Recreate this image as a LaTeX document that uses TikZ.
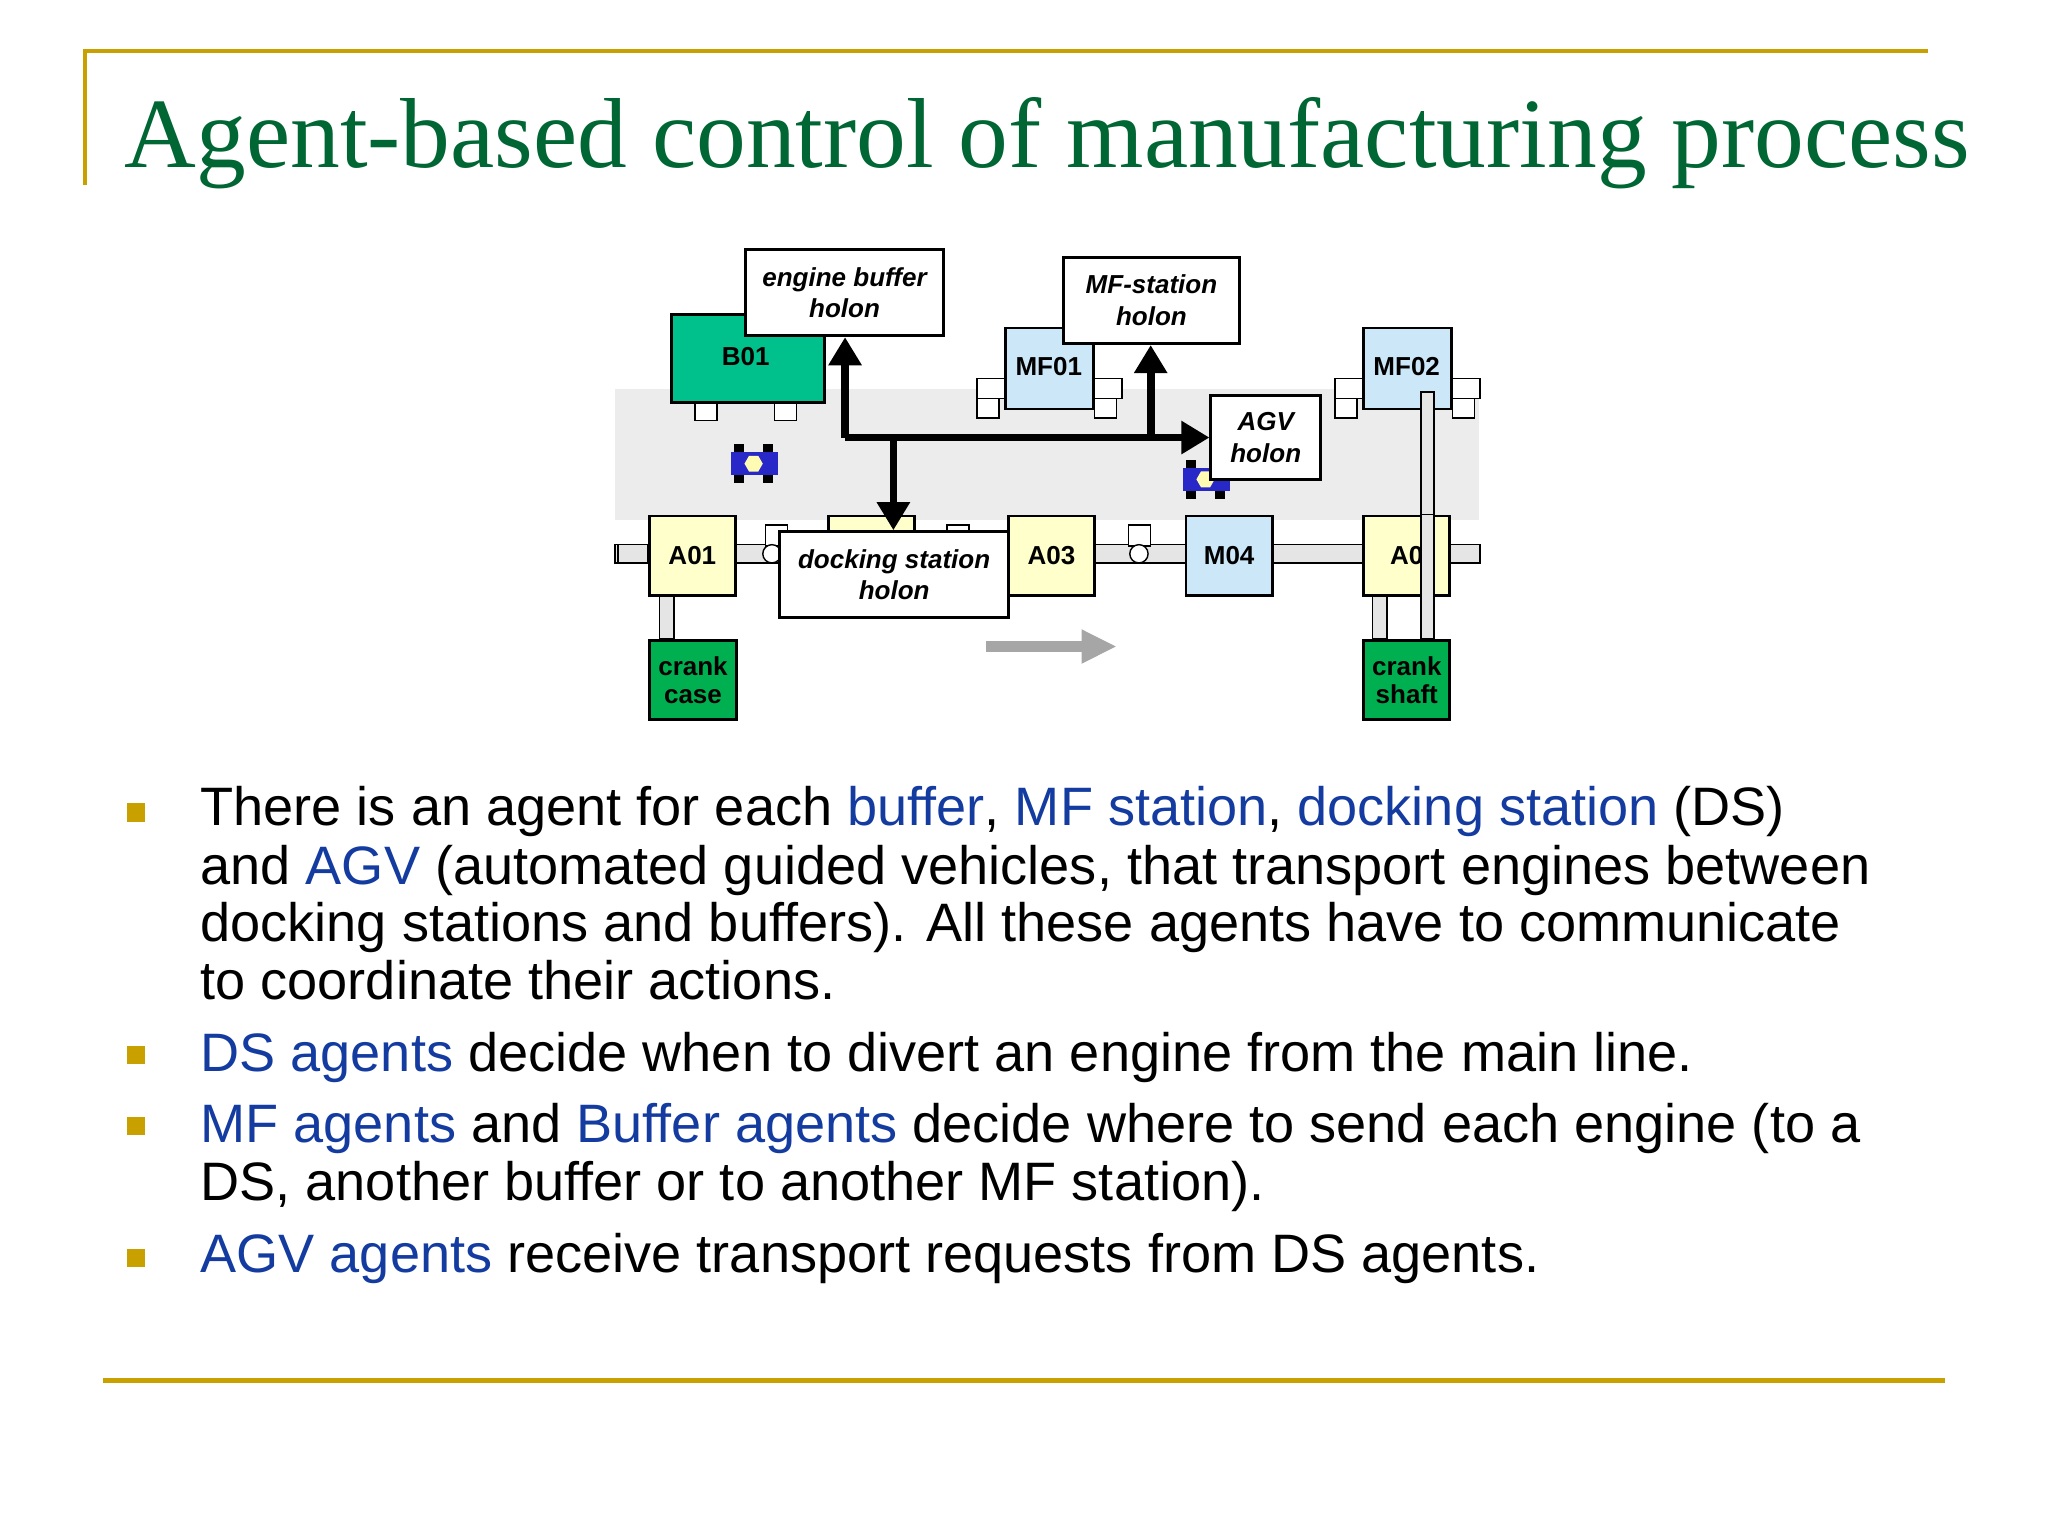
\documentclass[tikz,border=0pt]{standalone}
\usepackage{fontspec}
\setmainfont{Liberation Sans}
\newfontfamily\titlefont{Liberation Serif}
\usetikzlibrary{arrows.meta,shapes.geometric}
\definecolor{gold}{RGB}{200,160,0}
\definecolor{titlegreen}{RGB}{0,102,51}
\definecolor{kwblue}{RGB}{20,60,160}
\definecolor{bufgreen}{RGB}{0,192,140}
\definecolor{crankgreen}{RGB}{0,176,80}
\definecolor{mfblue}{RGB}{204,232,248}
\definecolor{asmyellow}{RGB}{255,255,204}
\definecolor{agvblue}{RGB}{40,40,200}

\begin{document}
\begin{tikzpicture}[x=0.013061cm, y=-0.013061cm]
    \tikzstyle{unit} = [draw, thick, font=\bfseries\fontsize{7.4}{8}\selectfont]
    \tikzstyle{holon} = [draw, thick, fill=white, font=\bfseries\itshape\fontsize{7.4}{9}\selectfont, align=center]
    \tikzstyle{foot} = [draw, fill=white]
    \tikzstyle{rail} = [draw, fill=gray!20]
    \tikzstyle{msg} = [line width=2.2pt, -{Triangle[length=8pt,width=9pt]}]
    \tikzstyle{line} = [anchor=base west, font=\fontsize{15.4}{16}\selectfont, inner sep=0pt]
  \useasboundingbox (0,0) rectangle (1568,1176);
  % frame
  \draw[gold, line width=1.2pt] (65,142) -- (65,39) -- (1476,39);
  \draw[gold, line width=1.2pt] (79,1057) -- (1489,1057);
  \node[anchor=base west, inner sep=0pt, text=titlegreen, font=\titlefont\fontsize{28.3}{30}\selectfont] (title) at (95,128) {Agent-based control of manufacturing process};
  % shop floor
  \fill[gray!15] (471,298) rectangle (1132,398);
  \draw[rail] (471,417) rectangle (1133,431);
  \draw[rail] (505,443) rectangle (516,489);
  \draw[rail] (1051,443) rectangle (1062,489);
  \foreach \x/\y in {532/307, 593/307} \draw[foot] (\x,\y) rectangle ++(17,15);
  \foreach \x in {748, 838, 1022, 1112} {
    \draw[foot] (\x,290) rectangle ++(21,15);
    \draw[foot] (\x,305) rectangle ++(17,15);
  }
  \foreach \x in {586, 725, 864} \draw[foot] (\x,402) rectangle ++(17,16);
  \foreach \x in {591, 872} \draw[foot] (\x,424) circle (7);
  \node[unit, fill=bufgreen, minimum width=117*0.013061cm, minimum height=67*0.013061cm, anchor=north west] (b01) at (513,240) {};
  \node[font=\bfseries\fontsize{7.4}{8}\selectfont] at (571,273) {B01};
  \node[unit, fill=mfblue, minimum width=67*0.013061cm, minimum height=62*0.013061cm, anchor=north west] (mf01) at (769,250) {};
  \node[font=\bfseries\fontsize{7.4}{8}\selectfont] at (803,281) {MF01};
  \node[unit, fill=mfblue, minimum width=67*0.013061cm, minimum height=62*0.013061cm, anchor=north west] (mf02) at (1043,250) {};
  \node[font=\bfseries\fontsize{7.4}{8}\selectfont] at (1077,281) {MF02};
  \draw[rail] (1088,300) rectangle (1098,489);
  \foreach \name/\x/\col/\txt in {a01/496/asmyellow/A01, a02/633/asmyellow/, a03/771/asmyellow/A03, m04/907/mfblue/M04, a0/1043/asmyellow/A0}
    \node[unit, fill=\col, minimum width=66*0.013061cm, minimum height=61*0.013061cm, anchor=north west] (\name) at (\x,394) {\txt};
  \draw[rail] (1088,394) rectangle (1098,489);
  \draw[rail] (473,417) rectangle (496,431);
  \draw[rail] (1110,417) rectangle (1133,431);
  \node[unit, fill=crankgreen, minimum width=67*0.013061cm, minimum height=61*0.013061cm, anchor=north west, align=center, inner sep=0pt] (case) at (496,489) {crank\\case};
  \node[unit, fill=crankgreen, minimum width=66*0.013061cm, minimum height=61*0.013061cm, anchor=north west, align=center, inner sep=0pt] (shaft) at (1043,489) {crank\\shaft};
  % vehicles
  \foreach \name/\x/\y in {agv1/560/340, agv2/906/352} {
    \fill (\x+2,\y) rectangle ++(8,30);
    \fill (\x+24,\y) rectangle ++(8,30);
    \fill[agvblue] (\x,\y+6) rectangle ++(36,18);
    \node[regular polygon, regular polygon sides=6, fill=yellow!30, minimum size=14*0.013061cm, inner sep=0pt] (\name) at (\x+17,\y+15) {};
  }
  % holons
  \node[holon, minimum width=151*0.013061cm, minimum height=66*0.013061cm, anchor=north west] (ebh) at (570,190) {engine buffer\\holon};
  \node[holon, minimum width=135*0.013061cm, minimum height=66*0.013061cm, anchor=north west] (mfh) at (813,196) {MF-station\\holon};
  \node[holon, minimum width=84*0.013061cm, minimum height=64*0.013061cm, anchor=north west] (agvh) at (926,302) {AGV\\holon};
  \node[holon, minimum width=175*0.013061cm, minimum height=66*0.013061cm, anchor=north west] (dsh) at (596,406) {docking station\\holon};
  % messages
  \coordinate (hub) at (647,335);
  \draw[msg] (hub) -- (ebh.south -| hub);
  \draw[msg] (hub) -- (agvh.west |- hub);
  \draw[msg] (881,336) -- (mfh.south -| 881,0);
  \draw[msg] (684,336) -- (dsh.north -| 684,0);
  \draw[line width=2.2pt] (hub) -- (881,335);
  \coordinate (flowa) at (755,495);
  \coordinate (flowb) at (855,495);
  \draw[gray!70, line width=3pt, -{Triangle[length=10pt,width=9pt]}] (flowa) -- (flowb);
  % bullets
  \foreach \y in {622, 808, 862, 963} \fill[gold] (97,\y-7) rectangle ++(14,14);
  \node[line] (l1) at (153,632) {There is an agent for each \textcolor{kwblue}{buffer}, \textcolor{kwblue}{MF station}, \textcolor{kwblue}{docking station} (DS)};
  \node[line] (l2) at (153,677) {and \textcolor{kwblue}{AGV} (automated guided vehicles, that transport engines between};
  \node[line] (l3) at (153,721) {docking stations and buffers). All these agents have to communicate};
  \node[line] (l4) at (153,765) {to coordinate their actions.};
  \node[line] (l5) at (153,820) {\textcolor{kwblue}{DS agents} decide when to divert an engine from the main line.};
  \node[line] (l6) at (153,875) {\textcolor{kwblue}{MF agents} and \textcolor{kwblue}{Buffer agents} decide where to send each engine (to a};
  \node[line] (l7) at (153,919) {DS, another buffer or to another MF station).};
  \node[line] (l8) at (153,974) {\textcolor{kwblue}{AGV agents} receive transport requests from DS agents.};
  \end{tikzpicture}
\end{document}
